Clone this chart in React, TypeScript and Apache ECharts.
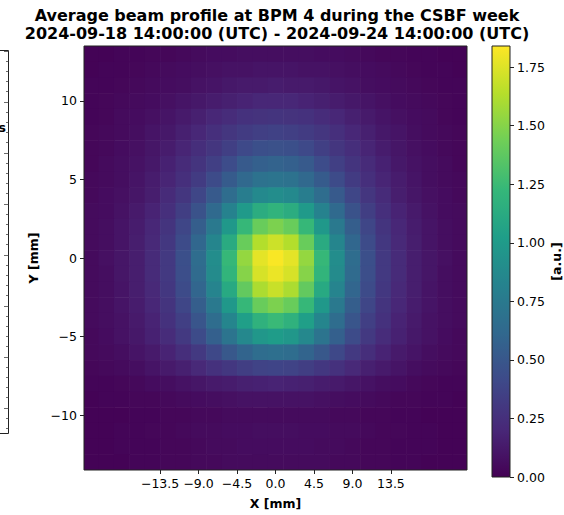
import React, { useEffect, useRef } from 'react';
import * as echarts from 'echarts';

// Cell centres of the averaged profile (mm)
const xCenters = [-21.6, -19.8, -18, -16.2, -14.4, -12.6, -10.8, -9, -7.2, -5.4, -3.6, -1.8, 0, 1.8, 3.6, 5.4, 7.2, 9, 10.8, 12.6, 14.4, 16.2, 18, 19.8, 21.6];
const yCenters = [13, 12, 11, 10, 9, 8, 7, 6, 5, 4, 3, 2, 1, 0, -1, -2, -3, -4, -5, -6, -7, -8, -9, -10, -11, -12, -13];

// Average intensity [a.u.], one row per yCenters entry (top to bottom), one column per xCenters entry
const rowP13 = [.01,.01,.02,.02,.03,.03,.04,.05,.06,.06,.07,.07,.07,.07,.07,.06,.06,.05,.04,.03,.03,.02,.02,.01,.01];
const rowP12 = [.01,.02,.02,.03,.04,.05,.06,.07,.08,.09,.09,.10,.10,.10,.09,.09,.08,.07,.06,.05,.04,.03,.02,.02,.01];
const rowP11 = [.02,.02,.03,.04,.05,.06,.07,.09,.10,.12,.13,.13,.14,.13,.13,.12,.10,.09,.07,.06,.05,.04,.03,.02,.02];
const rowP10 = [.02,.03,.04,.05,.06,.08,.10,.12,.14,.16,.18,.20,.20,.20,.18,.16,.14,.12,.10,.08,.06,.05,.04,.03,.02];
const rowP9 = [.02,.03,.05,.06,.08,.10,.13,.16,.20,.23,.26,.27,.28,.27,.26,.23,.20,.16,.13,.10,.08,.06,.05,.03,.02];
const rowP8 = [.03,.04,.05,.07,.10,.12,.16,.20,.25,.29,.32,.35,.36,.35,.32,.29,.25,.20,.16,.12,.10,.07,.05,.04,.03];
const rowP7 = [.03,.04,.06,.08,.11,.14,.19,.24,.29,.35,.41,.45,.46,.45,.41,.35,.29,.24,.19,.14,.11,.08,.06,.04,.03];
const rowP6 = [.03,.05,.07,.09,.12,.17,.22,.28,.35,.43,.52,.56,.58,.56,.52,.43,.35,.28,.22,.17,.12,.09,.07,.05,.03];
const rowP5 = [.04,.05,.07,.10,.14,.19,.25,.32,.42,.53,.62,.69,.71,.69,.62,.53,.42,.32,.25,.19,.14,.10,.07,.05,.04];
const rowP4 = [.04,.06,.08,.11,.15,.22,.29,.39,.52,.65,.78,.87,.90,.87,.78,.65,.52,.39,.29,.22,.15,.11,.08,.06,.04];
const rowP3 = [.05,.06,.09,.13,.18,.25,.34,.47,.63,.82,.99,1.14,1.19,1.14,.99,.82,.63,.47,.34,.25,.18,.13,.09,.06,.05];
const rowP2 = [.05,.07,.10,.14,.20,.28,.39,.55,.75,.98,1.23,1.41,1.47,1.41,1.23,.98,.75,.55,.39,.28,.20,.14,.10,.07,.05];
const rowP1 = [.05,.07,.10,.15,.21,.30,.42,.61,.84,1.12,1.41,1.63,1.70,1.63,1.41,1.12,.84,.61,.42,.30,.21,.15,.10,.07,.05];
const row0 = [.05,.08,.11,.15,.22,.31,.45,.65,.90,1.23,1.54,1.77,1.83,1.77,1.54,1.23,.90,.65,.45,.31,.22,.15,.11,.08,.05];
const rowM1 = [.05,.07,.11,.15,.22,.31,.44,.64,.88,1.20,1.50,1.73,1.79,1.73,1.50,1.20,.88,.64,.44,.31,.22,.15,.11,.07,.05];
const rowM2 = [.05,.07,.10,.15,.21,.30,.42,.60,.83,1.11,1.39,1.61,1.69,1.61,1.39,1.11,.83,.60,.42,.30,.21,.15,.10,.07,.05];
const rowM3 = [.05,.07,.10,.14,.20,.28,.39,.55,.75,.98,1.23,1.41,1.47,1.41,1.23,.98,.75,.55,.39,.28,.20,.14,.10,.07,.05];
const rowM4 = [.05,.07,.09,.13,.18,.26,.35,.49,.65,.84,1.03,1.18,1.24,1.18,1.03,.84,.65,.49,.35,.26,.18,.13,.09,.07,.05];
const rowM5 = [.04,.06,.09,.12,.17,.23,.31,.42,.56,.71,.86,.97,1.01,.97,.86,.71,.56,.42,.31,.23,.17,.12,.09,.06,.04];
const rowM6 = [.04,.05,.07,.10,.13,.18,.24,.31,.40,.51,.59,.65,.67,.65,.59,.51,.40,.31,.24,.18,.13,.10,.07,.05,.04];
const rowM7 = [.03,.04,.05,.07,.10,.13,.16,.21,.26,.30,.34,.37,.38,.37,.34,.30,.26,.21,.16,.13,.10,.07,.05,.04,.03];
const rowM8 = [.02,.02,.03,.04,.06,.07,.09,.11,.13,.14,.16,.17,.18,.17,.16,.14,.13,.11,.09,.07,.06,.04,.03,.02,.02];
const rowM9 = [.01,.02,.02,.03,.03,.04,.05,.06,.07,.08,.09,.09,.09,.09,.09,.08,.07,.06,.05,.04,.03,.03,.02,.02,.01];
const rowM10 = [.01,.01,.01,.02,.02,.03,.03,.04,.04,.05,.05,.05,.05,.05,.05,.05,.04,.04,.03,.03,.02,.02,.01,.01,.01];
const rowM11 = [.01,.01,.02,.02,.03,.03,.04,.05,.05,.06,.06,.07,.07,.07,.06,.06,.05,.05,.04,.03,.03,.02,.02,.01,.01];
const rowM12 = [.01,.01,.02,.02,.02,.03,.03,.04,.05,.05,.06,.06,.06,.06,.06,.05,.05,.04,.03,.03,.02,.02,.02,.01,.01];
const rowM13 = [.01,.01,.01,.02,.02,.03,.03,.04,.04,.05,.05,.05,.05,.05,.05,.05,.04,.04,.03,.03,.02,.02,.01,.01,.01];

const profileRows = [rowP13, rowP12, rowP11, rowP10, rowP9, rowP8, rowP7, rowP6, rowP5, rowP4, rowP3, rowP2, rowP1, row0,
  rowM1, rowM2, rowM3, rowM4, rowM5, rowM6, rowM7, rowM8, rowM9, rowM10, rowM11, rowM12, rowM13];

const xTicks = [-13.5, -9, -4.5, 0, 4.5, 9, 13.5];
const yTicks = [-10, -5, 0, 5, 10];
const cbTicks = [0, 0.25, 0.5, 0.75, 1.0, 1.25, 1.5, 1.75];
const valueMax = 1.84;
const xExtent = 22.4;
const yExtent = 13.5;
const cellW = 1.8;
const cellH = 1.0;

const titleLine1 = 'Average beam profile at BPM 4 during the CSBF week';
const titleLine2 = '2024-09-18 14:00:00 (UTC) - 2024-09-24 14:00:00 (UTC)';

const viridis = ['#440154', '#482878', '#3e4989', '#31688e', '#26828e', '#1f9e89', '#35b779', '#6ece58', '#b5de2b', '#fde725'];

const FONT = 'DejaVu Sans';
const minus = (s: string) => s.replace('-', '\u2212');

export default function App() {
  const ref = useRef<HTMLDivElement>(null);
  useEffect(() => {
    if (!ref.current) return;
    const chart = echarts.init(ref.current, undefined, { renderer: 'svg' });

    const data: number[][] = [];
    profileRows.forEach((row, j) => {
      row.forEach((v, i) => data.push([xCenters[i], yCenters[j], v]));
    });

    // decoration: right edge of a neighbouring (cut-off) panel
    const deco: any[] = [];
    const ls = { stroke: '#222', lineWidth: 1 };
    deco.push({ type: 'polyline', shape: { points: [[0, 50.5], [8.5, 50.5], [8.5, 433.5], [0, 433.5]] }, style: { ...ls, fill: 'none' } });
    for (let k = 0; k <= 37; k++) {
      const y = 50.5 + k * 10.2;
      if (y > 433) break;
      const major = k % 5 === 0;
      deco.push({ type: 'line', shape: { x1: major ? 4 : 6, y1: Math.round(y) + 0.5, x2: 8.5, y2: Math.round(y) + 0.5 }, style: { stroke: '#444', lineWidth: 0.8 } });
    }
    deco.push({ type: 'text', x: 6, y: 127, style: { text: 's', font: `bold 12.5px "${FONT}"`, fill: '#000', textAlign: 'right', textVerticalAlign: 'middle' } });

    const gradStops = viridis.map((c, i) => ({ offset: i / (viridis.length - 1), color: c }));
    const titleFont = `bold 16px "${FONT}"`;

    chart.setOption({
      animation: false,
      backgroundColor: '#fff',
      textStyle: { fontFamily: FONT },
      graphic: [
        { type: 'text', x: 277, y: 15, style: { text: titleLine1, font: titleFont, fill: '#000', textAlign: 'center', textVerticalAlign: 'middle' } },
        { type: 'text', x: 277, y: 33, style: { text: titleLine2, font: titleFont, fill: '#000', textAlign: 'center', textVerticalAlign: 'middle' } },
        ...deco,
      ],
      visualMap: {
        type: 'continuous', show: false, min: 0, max: valueMax, dimension: 2, seriesIndex: 0,
        inRange: { color: viridis },
      },
      grid: [
        { left: 84, top: 46, width: 383, height: 431, show: true, borderColor: '#222', borderWidth: 1, backgroundColor: 'transparent', z: 5 },
        { left: 492, top: 46, width: 21, height: 431, show: true, borderColor: '#222', borderWidth: 1, z: 5 },
      ],
      xAxis: [
        {
          type: 'value', gridIndex: 0, min: -xExtent, max: xExtent,
          name: 'X [mm]', nameLocation: 'middle', nameGap: 27,
          nameTextStyle: { fontFamily: FONT, fontWeight: 'bold', fontSize: 12.5, color: '#000' },
          axisLine: { show: false, onZero: false },
          axisTick: { show: true, length: 4, customValues: xTicks, lineStyle: { color: '#222' } },
          axisLabel: { customValues: xTicks, margin: 7, fontFamily: FONT, fontSize: 12.5, color: '#000', formatter: (v: number) => minus(v.toFixed(1)) },
          splitLine: { show: false },
        },
        { type: 'category', gridIndex: 1, data: ['cb'], show: false },
      ],
      yAxis: [
        {
          type: 'value', gridIndex: 0, min: -yExtent, max: yExtent,
          name: 'Y [mm]', nameLocation: 'middle', nameGap: 30, nameRotate: 90,
          nameTextStyle: { fontFamily: FONT, fontWeight: 'bold', fontSize: 12.5, color: '#000' },
          axisLine: { show: false, onZero: false },
          axisTick: { show: true, length: 4, customValues: yTicks, lineStyle: { color: '#222' } },
          axisLabel: { customValues: yTicks, margin: 7, fontFamily: FONT, fontSize: 12.5, color: '#000', formatter: (v: number) => minus(String(v)) },
          splitLine: { show: false },
        },
        {
          type: 'value', gridIndex: 1, min: 0, max: valueMax, position: 'right',
          name: '[a.u.]', nameLocation: 'middle', nameGap: 40, nameRotate: 90,
          nameTextStyle: { fontFamily: FONT, fontWeight: 'bold', fontSize: 12.5, color: '#000' },
          axisLine: { show: false },
          axisTick: { show: true, length: 4, customValues: cbTicks, lineStyle: { color: '#222' } },
          axisLabel: { customValues: cbTicks, margin: 7, fontFamily: FONT, fontSize: 12.5, color: '#000', formatter: (v: number) => v.toFixed(2) },
          splitLine: { show: false },
        },
      ],
      series: [
        {
          type: 'custom',
          xAxisIndex: 0, yAxisIndex: 0,
          encode: { x: 0, y: 1 },
          data,
          renderItem: (params: any, api: any) => {
            const x = api.value(0), y = api.value(1);
            const p0 = api.coord([x - cellW / 2, y + cellH / 2]);
            const p1 = api.coord([x + cellW / 2, y - cellH / 2]);
            const cs = params.coordSys;
            const shape = echarts.graphic.clipRectByRect(
              { x: p0[0], y: p0[1], width: p1[0] - p0[0] + 0.6, height: p1[1] - p0[1] + 0.6 },
              { x: cs.x, y: cs.y, width: cs.width, height: cs.height }
            );
            if (!shape) return null;
            return { type: 'rect', shape, style: { fill: api.visual('color') } };
          },
        },
        {
          type: 'bar', xAxisIndex: 1, yAxisIndex: 1, data: [valueMax], barWidth: '100%', silent: true,
          itemStyle: { color: new echarts.graphic.LinearGradient(0, 1, 0, 0, gradStops) },
        },
      ],
    });
    return () => chart.dispose();
  }, []);
  return <div ref={ref} style={{ position: 'absolute', left: 0, top: 0, width: 564, height: 515 }} />;
}
